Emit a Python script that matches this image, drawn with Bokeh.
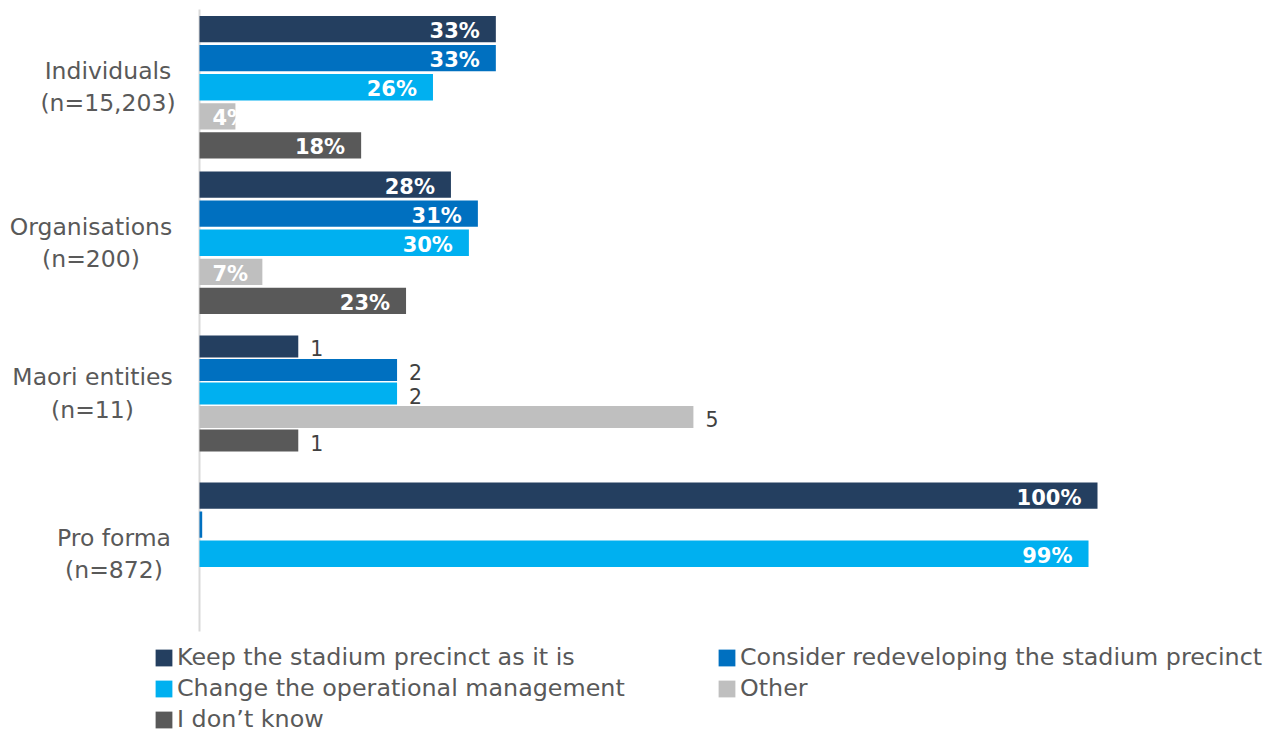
from bokeh.plotting import figure
from bokeh.models import Range1d, Legend, LegendItem, ColumnDataSource
from bokeh.core.properties import value
from bokeh.embed import file_html
from bokeh.resources import INLINE

# ---------------- data ----------------
groups = ["Individuals\n(n=15,203)", "Organisations\n(n=200)",
          "Maori entities\n(n=11)", "Pro forma\n(n=872)"]
group_units = ["pct", "pct", "count", "pct"]   # Maori entities are shown as counts
series = ["Keep the stadium precinct as it is",
          "Consider redeveloping the stadium precinct",
          "Change the operational management",
          "Other",
          "I don\u2019t know"]
keep = [33, 28, 1, 100]
consider = [33, 31, 2, 0.3]
change = [26, 30, 2, 99]
other = [4, 7, 5, 0]
dont_know = [18, 23, 1, 0]
values = [keep, consider, change, other, dont_know]
colors = ["#243F60", "#0070C0", "#00B0F0", "#BFBFBF", "#595959"]

# ---------------- layout constants ----------------
W, H = 1271, 733
AXIS_PX = 199          # canvas x of the value axis
PX_PER_UNIT = 8.98     # pixels per percentage point
BAND_PX = 155.5        # height of one category band
TOP_PX = 9
COUNT_SCALE = 11.0     # axis units per response for the count group
PITCH, BAR_H = 0.1871, 0.1691
PITCH_C, BAR_H_C, SHIFT_C = 0.1514, 0.1415, -0.0305
LABEL_CENTER_OFFSETS = [-91.5, -108.5, -107, -85.5]   # px from the axis
FONT_NAME = "DejaVu Sans"
FONT = value(FONT_NAME)
GREY_TXT = "#595959"

x_range = Range1d(-AXIS_PX / PX_PER_UNIT, (W - AXIS_PX) / PX_PER_UNIT)
y_range = Range1d((H - TOP_PX) / BAND_PX - 0.5, -TOP_PX / BAND_PX - 0.5)

p = figure(width=W, height=H, x_range=x_range, y_range=y_range,
           output_backend="svg", toolbar_location=None,
           x_axis_type=None, y_axis_type=None, min_border=0,
           outline_line_color=None, background_fill_color="white")

n = len(groups)
# value axis line
p.segment(x0=[0], y0=[-0.5], x1=[0], y1=[n - 0.5], line_color="#D9D9D9", line_width=2)

renderers = []
for j, (name, vals, col) in enumerate(zip(series, values, colors)):
    ys, lens, hs = [], [], []
    big = dict(x=[], y=[], t=[])
    small = dict(x=[], y=[], t=[])
    cnt = dict(x=[], y=[], t=[])
    for i, (v, unit) in enumerate(zip(vals, group_units)):
        if unit == "count":
            y = i + SHIFT_C + (j - 2) * PITCH_C
            h = BAR_H_C
            L = v * COUNT_SCALE
            cnt["x"].append(L); cnt["y"].append(y); cnt["t"].append(str(v))
        else:
            y = i + (j - 2) * PITCH
            h = BAR_H
            L = v
            if v >= 10:
                big["x"].append(L); big["y"].append(y); big["t"].append(f"{round(v)}%")
            elif v >= 1:
                small["x"].append(0); small["y"].append(y); small["t"].append(f"{round(v)}%")
        ys.append(y); lens.append(L); hs.append(h)
    src = ColumnDataSource(dict(y=ys, right=lens, h=hs))
    r = p.hbar(y="y", left=0, right="right", height="h", source=src,
               fill_color=col, line_color=None)
    renderers.append(r)
    p.text(x="x", y="y", text="t", source=ColumnDataSource(big),
           text_align="right", text_baseline="middle", x_offset=-16, y_offset=2,
           text_font=FONT, text_font_style="bold", text_font_size="21px",
           text_color="white")
    p.text(x="x", y="y", text="t", source=ColumnDataSource(small),
           text_align="left", text_baseline="middle", x_offset=13, y_offset=2,
           text_font=FONT, text_font_style="bold", text_font_size="21px",
           text_color="white")
    p.text(x="x", y="y", text="t", source=ColumnDataSource(cnt),
           text_align="left", text_baseline="middle", x_offset=12, y_offset=2,
           text_font=FONT, text_font_size="20.5px", text_color="#404040")

# category labels
label_y = [i + (SHIFT_C if u == "count" else 0) for i, u in enumerate(group_units)]
p.text(x=[0] * n, y=label_y, text=groups, x_offset=LABEL_CENTER_OFFSETS, y_offset=0,
       text_align="center", text_baseline="middle", text_line_height=1.15,
       text_font=FONT, text_font_size="23.5px", text_color=GREY_TXT)

legend = Legend(items=[LegendItem(label=s, renderers=[r]) for s, r in zip(series, renderers)],
                location=(153, 0), orientation="horizontal", ncols=2,
                glyph_width=21, glyph_height=21, label_standoff=3,
                label_width=536, label_height=28, spacing=3,
                padding=0, margin=0, border_line_color=None,
                background_fill_alpha=0,
                label_text_font=FONT_NAME, label_text_font_size="23.8px",
                label_text_color=GREY_TXT)
p.add_layout(legend)

open("out.html", "w").write(file_html(p, INLINE))
